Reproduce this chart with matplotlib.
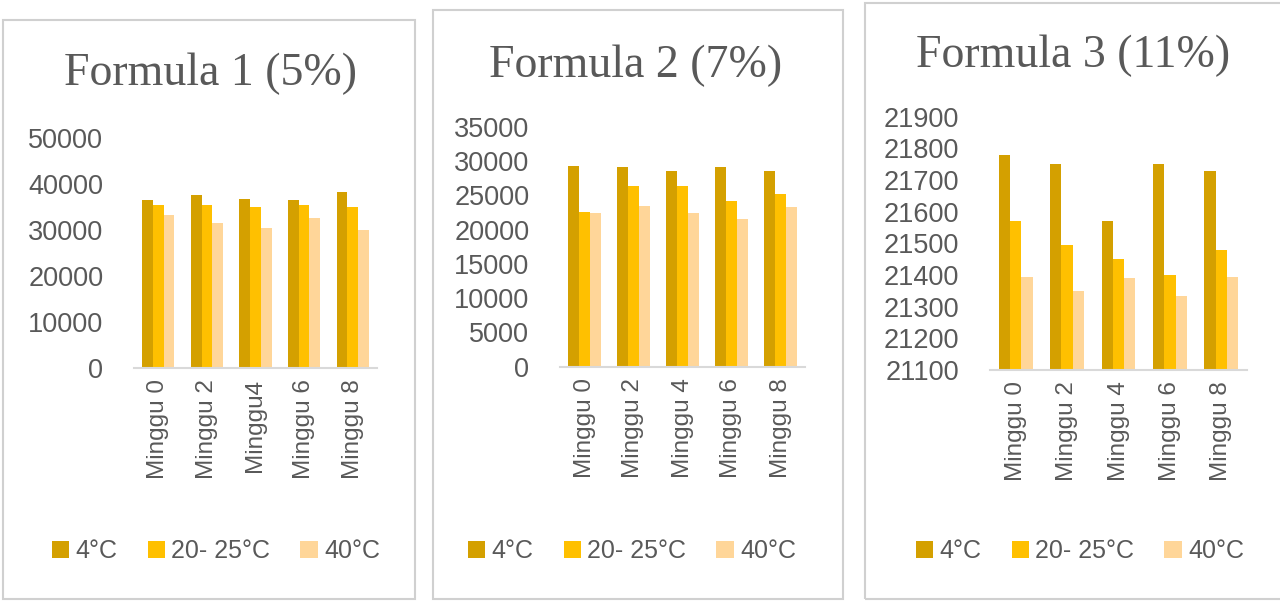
import matplotlib.pyplot as plt
from matplotlib.patches import Rectangle
import numpy as np

W, H = 1280, 601

# data
labels_1 = ['Minggu 0', 'Minggu 2', 'Minggu4', 'Minggu 6', 'Minggu 8']
labels_23 = ['Minggu 0', 'Minggu 2', 'Minggu 4', 'Minggu 6', 'Minggu 8']
series_names = ['4°C', '20- 25°C', '40°C']

f1_4c = [36600, 37700, 36800, 36600, 38300]
f1_2025c = [35400, 35400, 34900, 35400, 35100]
f1_40c = [33200, 31500, 30400, 32500, 30100]

f2_4c = [29300, 29100, 28600, 29100, 28600]
f2_2025c = [22600, 26300, 26300, 24100, 25200]
f2_40c = [22400, 23500, 22400, 21500, 23300]

f3_4c = [21780, 21750, 21570, 21750, 21730]
f3_2025c = [21570, 21495, 21450, 21400, 21480]
f3_40c = [21395, 21350, 21390, 21335, 21395]

titles = ['Formula 1 (5%)', 'Formula 2 (7%)', 'Formula 3 (11%)']
colors = ['#D4A000', '#FFC000', '#FFD699']
txt_col = '#595959'
grey = '#D9D9D9'


def px_rect(l, t, r, b):
    # pixel box (from top-left) -> figure fraction
    return [l / W, 1 - b / H, (r - l) / W, (b - t) / H]


def draw_panel(fig, rect, box, title, title_xy, labels, series, ylim, ystep, leg_x):
    # card border
    bl, bt, br, bb = box
    fig.patches.append(Rectangle((bl / W, 1 - bb / H), (br - bl) / W, (bb - bt) / H,
                                 transform=fig.transFigure, fill=False,
                                 edgecolor='#D0D0D0', linewidth=1.5, zorder=0))
    fig.text(title_xy[0] / W, 1 - title_xy[1] / H, title, ha='center', va='baseline',
             fontsize=33, color=txt_col, family='Liberation Serif')

    ax = fig.add_axes(px_rect(*rect))
    x = np.arange(len(labels))
    bw = 0.22
    handles = []
    for i, (vals, c) in enumerate(zip(series, colors)):
        h = ax.bar(x + (i - 1) * bw, vals, width=bw, color=c, label=series_names[i])
        handles.append(h)
    ax.set_xlim(-0.5, len(labels) - 0.5)
    ax.set_ylim(*ylim)
    ax.set_yticks(np.arange(ylim[0], ylim[1] + 1, ystep))
    ax.set_xticks(x)
    ax.set_xticklabels(labels, rotation=90, fontsize=17.5, color=txt_col,
                       family='Liberation Sans')
    ax.tick_params(axis='y', length=0, pad=22, labelsize=19.5, labelcolor=txt_col)
    ax.tick_params(axis='x', length=0, pad=8)
    for lab in ax.get_yticklabels():
        lab.set_family('Liberation Sans')
    for s in ['top', 'right', 'left']:
        ax.spines[s].set_visible(False)
    ax.spines['bottom'].set_color(grey)
    ax.spines['bottom'].set_linewidth(1.5)

    leg = ax.legend(handles=handles, loc='center', bbox_to_anchor=(leg_x / W, 1 - 551 / H),
                    bbox_transform=fig.transFigure, ncol=3, frameon=False,
                    fontsize=18, handlelength=0.7, handleheight=0.7,
                    handletextpad=0.25, columnspacing=1.2)
    for t in leg.get_texts():
        t.set_color(txt_col)
        t.set_family('Liberation Sans')
    return ax


fig = plt.figure(figsize=(W / 100, H / 100), dpi=100)
fig.patch.set_facecolor('white')

draw_panel(fig, (134, 138, 377, 368), (3, 20, 415, 599), titles[0], (210, 85),
           labels_1, [f1_4c, f1_2025c, f1_40c], (0, 50000), 10000, 216)
draw_panel(fig, (560, 126.7, 805, 366.7), (433, 10, 843, 599), titles[1], (636, 77),
           labels_23, [f2_4c, f2_2025c, f2_40c], (0, 35000), 5000, 632)
draw_panel(fig, (990, 116.7, 1247, 370), (865, 3, 1290, 599), titles[2], (1073, 67),
           labels_23, [f3_4c, f3_2025c, f3_40c], (21100, 21900), 100, 1080)

fig.savefig('out.png', dpi=100, facecolor='white')
